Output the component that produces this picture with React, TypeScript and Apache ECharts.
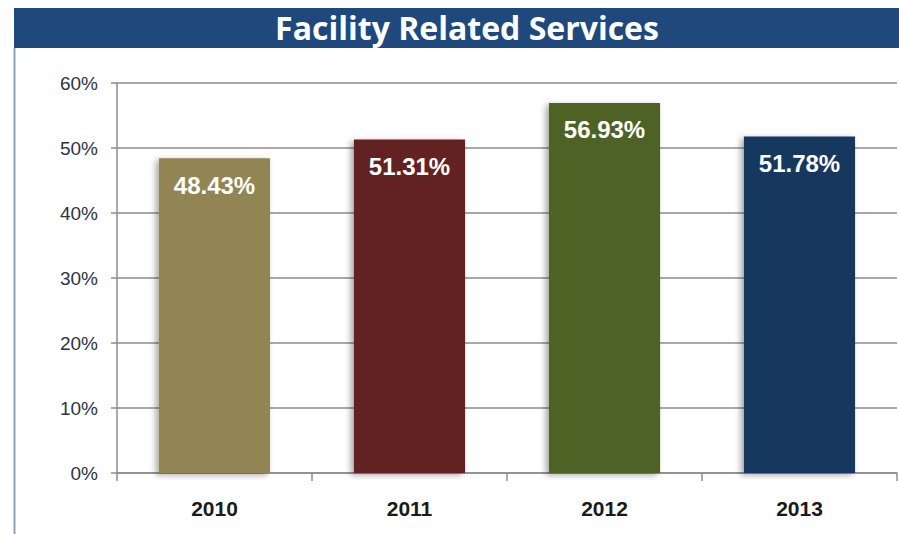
import React, { useEffect, useRef } from "react";
import * as echarts from "echarts";

const categories = ["2010", "2011", "2012", "2013"];
const values = [48.43, 51.31, 56.93, 51.78];
const barColors = ["#918652", "#632423", "#4f6228", "#17375e"];
const titleText = "Facility Related Services";

export default function App() {
  const ref = useRef<HTMLDivElement>(null);
  useEffect(() => {
    if (!ref.current) return;
    const chart = echarts.init(ref.current, null, { renderer: "svg" });
    chart.setOption({
      animation: false,
      backgroundColor: "#ffffff",
      title: {
        text: titleText,
        left: 462,
        top: 6,
        textAlign: "center",
        textStyle: {
          color: "#ffffff",
          fontFamily: "Open Sans",
          fontWeight: "bold",
          fontSize: 32,
        },
      },
      graphic: [
        {
          type: "rect",
          z: -1,
          shape: { x: 14, y: 8, width: 885, height: 40 },
          style: { fill: "#1f497d" },
        },
        {
          type: "line",
          shape: { x1: 14.5, y1: 48, x2: 14.5, y2: 534 },
          style: { stroke: "#8ea4c0", lineWidth: 2 },
        },
      ],
      grid: { left: 117, right: 2, top: 83, bottom: 61 },
      xAxis: {
        type: "category",
        data: categories,
        axisLine: { lineStyle: { color: "#8c8c8c", width: 1.5 } },
        axisTick: { show: true, length: 8, lineStyle: { color: "#8c8c8c", width: 1.5 } },
        axisLabel: {
          margin: 25,
          color: "#1a1a1a",
          fontFamily: "Arial",
          fontWeight: "bold",
          fontSize: 21,
        },
      },
      yAxis: {
        type: "value",
        min: 0,
        max: 60,
        interval: 10,
        axisLine: { show: true, lineStyle: { color: "#8c8c8c", width: 1.5 } },
        axisTick: { show: true, length: 6, lineStyle: { color: "#8c8c8c", width: 1.5 } },
        splitLine: { lineStyle: { color: "#8c8c8c", width: 1.5 } },
        axisLabel: {
          margin: 19,
          color: "#2f3344",
          fontFamily: "Arial",
          fontSize: 19,
          formatter: (v: number) => `${v}%`,
        },
      },
      series: [
        {
          type: "bar",
          barWidth: "57%",
          data: values.map((v, i) => ({ value: v, itemStyle: { color: barColors[i] } })),
          itemStyle: {
            shadowColor: "rgba(0,0,0,0.35)",
            shadowBlur: 6,
            shadowOffsetX: -3,
            shadowOffsetY: 2,
          },
          label: {
            show: true,
            position: "insideTop",
            distance: 15,
            color: "#ffffff",
            fontFamily: "Arial",
            fontWeight: "bold",
            fontSize: 24,
            formatter: (p: any) => `${p.value.toFixed(2)}%`,
          },
        },
      ],
    });
    return () => chart.dispose();
  }, []);
  return (
    <div
      ref={ref}
      style={{ position: "fixed", left: 0, top: 0, width: 899, height: 534 }}
    />
  );
}
